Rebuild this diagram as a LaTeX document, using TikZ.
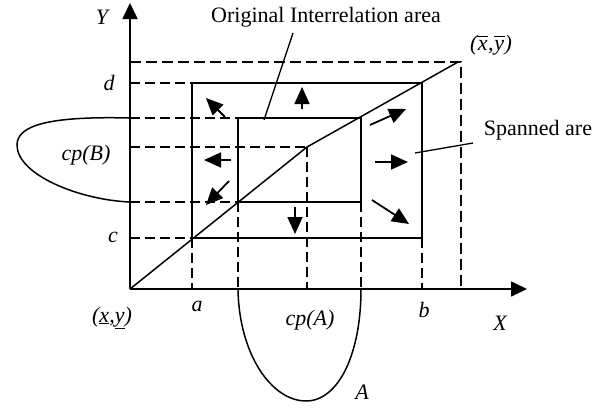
\documentclass[tikz,border=0pt]{standalone}
\usepackage{fontspec}
\setmainfont{Liberation Serif}
\usetikzlibrary{arrows.meta}
\newcommand\ovbar[1]{\leavevmode\vbox{\hrule height 1pt\kern3pt\hbox{\kern0.5pt#1\kern0.5pt}}}
\begin{document}
\begin{tikzpicture}[x=1pt,y=-1pt,
  solidline/.style={line width=1.5pt},
  dashline/.style={line width=1.4pt, dash pattern=on 10pt off 5pt},
  outerdash/.style={line width=1.7pt, dash pattern=on 11pt off 5pt},
  axisline/.style={line width=1.7pt,-{Triangle[length=16pt,width=15pt]}},
  spread/.style={line width=1.8pt,-{Triangle[length=17pt,width=15pt]}},
  lbl/.style={font=\fontsize{22}{26}\selectfont\itshape, inner sep=0pt},
  txt/.style={font=\fontsize{22}{26}\selectfont, inner sep=0pt},
  pointer/.style={line width=1.3pt}]
\useasboundingbox (0,0) rectangle (607,407);

% key coordinates
\coordinate (O) at (130,289);
\coordinate (Ytip) at (130,3);
\coordinate (Xtip) at (527,289);
\coordinate (TL) at (130,62);
\coordinate (TR) at (461,62);
\coordinate (BR) at (461,289);
\coordinate (S1) at (192,83);
\coordinate (S2) at (422,238);
\coordinate (R1) at (238,118);
\coordinate (R2) at (361,202);
\coordinate (M) at (307,147);
\coordinate (E) at (458,62);

% curves A and B
\draw[solidline] (130,118) .. controls (50,116) and (17,125) .. (17,145)
  .. controls (17,175) and (80,200) .. (130,202);
\draw[solidline] (238,289) .. controls (239,355) and (272,401) .. (306,401)
  .. controls (338,401) and (361,355) .. (361,289);

% dashed guide lines
\draw[outerdash] (TL) -- (TR) -- (BR);
\draw[dashline] (130,83) -- (192,83);
\draw[dashline] (130,118) -- (238,118);
\draw[dashline] (130,147) -- (M);
\draw[dashline] (130,202) -- (238,202);
\draw[dashline] (130,238) -- (192,238);
\draw[dashline] (192,238) -- (192,289);
\draw[dashline] (238,202) -- (238,289);
\draw[dashline] (M) -- (307,289);
\draw[dashline] (361,202) -- (361,289);
\draw[dashline] (422,238) -- (422,289);

% rectangles
\draw[solidline] (S1) rectangle (S2);
\draw[solidline] (R1) rectangle (R2);

% diagonal
\draw[solidline] (O) -- (M) -- (E);

% axes
\draw[axisline] (O) -- (Ytip);
\draw[axisline] (O) -- (Xtip);

% spreading arrows
\draw[spread] (302,109) -- (302,87);
\draw[spread] (225,117) -- (206,98);
\draw[spread] (231,160) -- (204,160);
\draw[spread] (229,181) -- (206,205);
\draw[spread] (295,207) -- (295,234);
\draw[spread] (370,125) -- (406,109);
\draw[spread] (375,162) -- (408,162);
\draw[spread] (372,200) -- (409,224);

% labels
\node[txt] (orig) at (326,17) {Original Interrelation area};
\node[txt] (span) at (538,130) {Spanned are};
\coordinate (origEnd) at (264,120);
\coordinate (origStart) at (293,33);
\coordinate (spanStart) at (473,143);
\coordinate (spanEnd) at (415,153);
\draw[pointer] (origStart) -- (origEnd);
\draw[pointer] (spanStart) -- (spanEnd);

\node[lbl] (Ylab) at (102,17) {Y};
\node[lbl] (Xlab) at (500,323) {X};
\node[lbl] (dlab) at (109,83) {d};
\node[lbl] (clab) at (113,237) {c};
\node[lbl] (alab) at (197,306) {a};
\node[lbl] (blab) at (424,310) {b};
\node[lbl] (cpB) at (86,155) {cp(B)};
\node[lbl] (cpA) at (310,320) {cp(A)};
\node[lbl] (Alab) at (362,392) {A};
\node[lbl] (low) at (112,318) {(\underline{x},\underline{y})};
\node[lbl] (high) at (491,45) {(\ovbar{x},\ovbar{y})};
\end{tikzpicture}
\end{document}
